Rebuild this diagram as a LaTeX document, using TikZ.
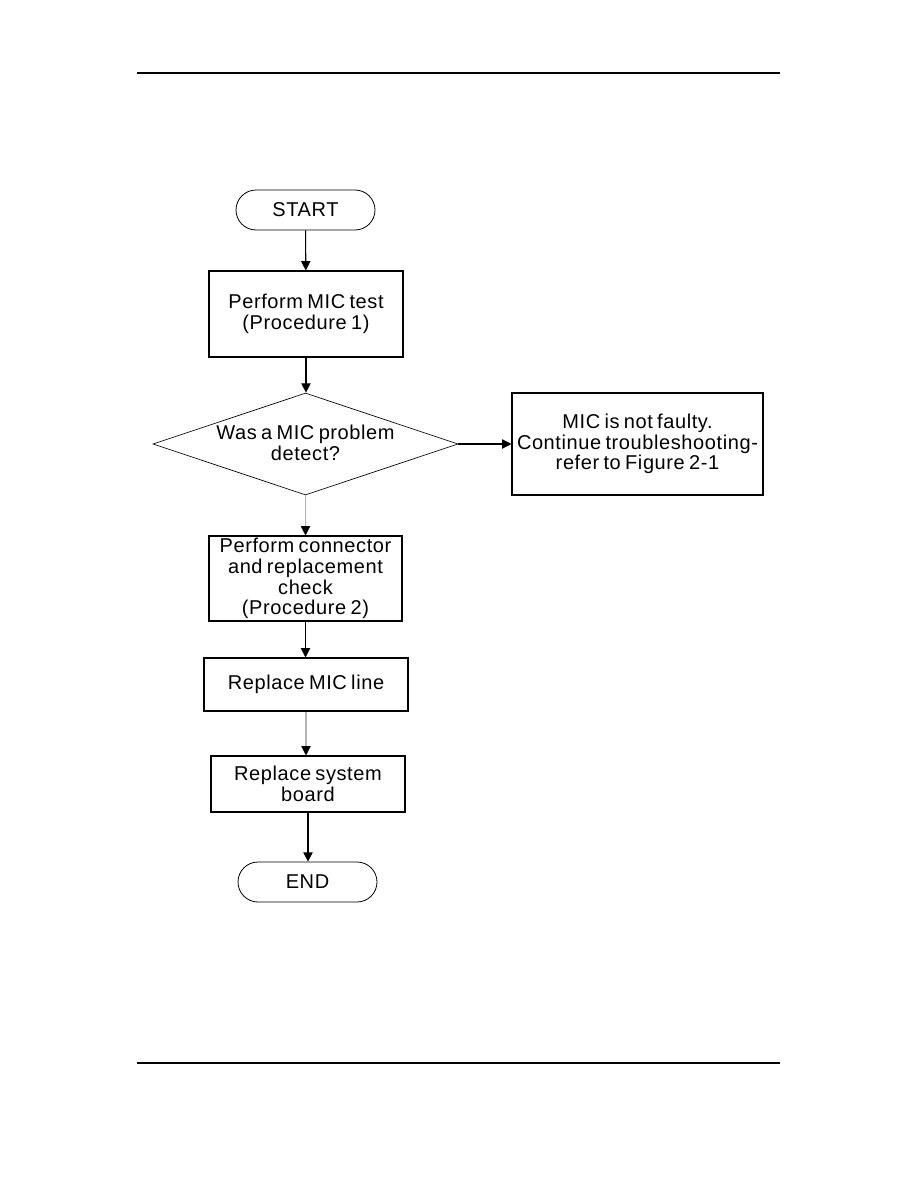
\documentclass[tikz,border=0pt]{standalone}
\usepackage{fontspec}
\setmainfont{Liberation Sans}[LetterSpace=3,WordSpace=0.7]
\usetikzlibrary{shapes.geometric,shapes.misc,arrows.meta}
\tikzset{
  every node/.style={font=\fontsize{15}{15.6}\selectfont, align=center, inner sep=0pt},
  term/.style={draw, rounded rectangle, line width=0.6pt},
  proc/.style={draw, rectangle, line width=0.8pt},
  dec/.style={draw, diamond, line width=0.5pt, inner sep=0pt},
  flow/.style={-{Triangle[length=7pt,width=7pt,color=black]}, line width=0.8pt},
  grayflow/.style={flow, draw=gray!60},
  rule/.style={line width=2.2pt}
}
\begin{document}
\begin{tikzpicture}[x=0.75pt,y=-0.75pt]
\useasboundingbox (0,0) rectangle (918,1188);
\draw[rule] (137,73) -- (780,73);
\draw[rule] (137,1063) -- (780,1063);
\node[term, minimum width=104.25pt, minimum height=30pt] (start) at (305.5,210) {START};
\node[proc, minimum width=145.5pt, minimum height=64.5pt] (p1) at (306,314) {Perform MIC test\\(Procedure 1)};
\node[dec, minimum width=228.75pt, minimum height=76.5pt] (d1) at (305.5,444) {};
\node (d1t) at (305.5,443) {Was a MIC problem\\detect?};
\node[proc, minimum width=188.25pt, minimum height=76.5pt] (nf) at (637.5,444) {MIC is not faulty.\\Continue troubleshooting-\\refer to Figure 2-1};
\node[proc, minimum width=144.75pt, minimum height=63.75pt] (p2) at (305.5,578.5) {Perform connector\\and replacement\\check\\(Procedure 2)};
\node[proc, minimum width=153pt, minimum height=39.75pt] (p3) at (306,684.5) {Replace MIC line};
\node[proc, minimum width=145.5pt, minimum height=42pt] (p4) at (308,784) {Replace system\\board};
\node[term, minimum width=104.25pt, minimum height=30pt] (end) at (307.5,882) {END};
\draw[flow] (start) -- (p1);
\draw[flow] (p1.south) -- (p1.south |- d1.north);
\draw[flow] (d1.east) -- (nf.west);
\draw[grayflow] (d1.south) -- (p2.north);
\draw[flow] (p2.south) -- (p2.south |- p3.north);
\draw[grayflow] (p3.south) -- (p3.south |- p4.north);
\draw[flow] (p4.south) -- (p4.south |- end.north);
\end{tikzpicture}
\end{document}
